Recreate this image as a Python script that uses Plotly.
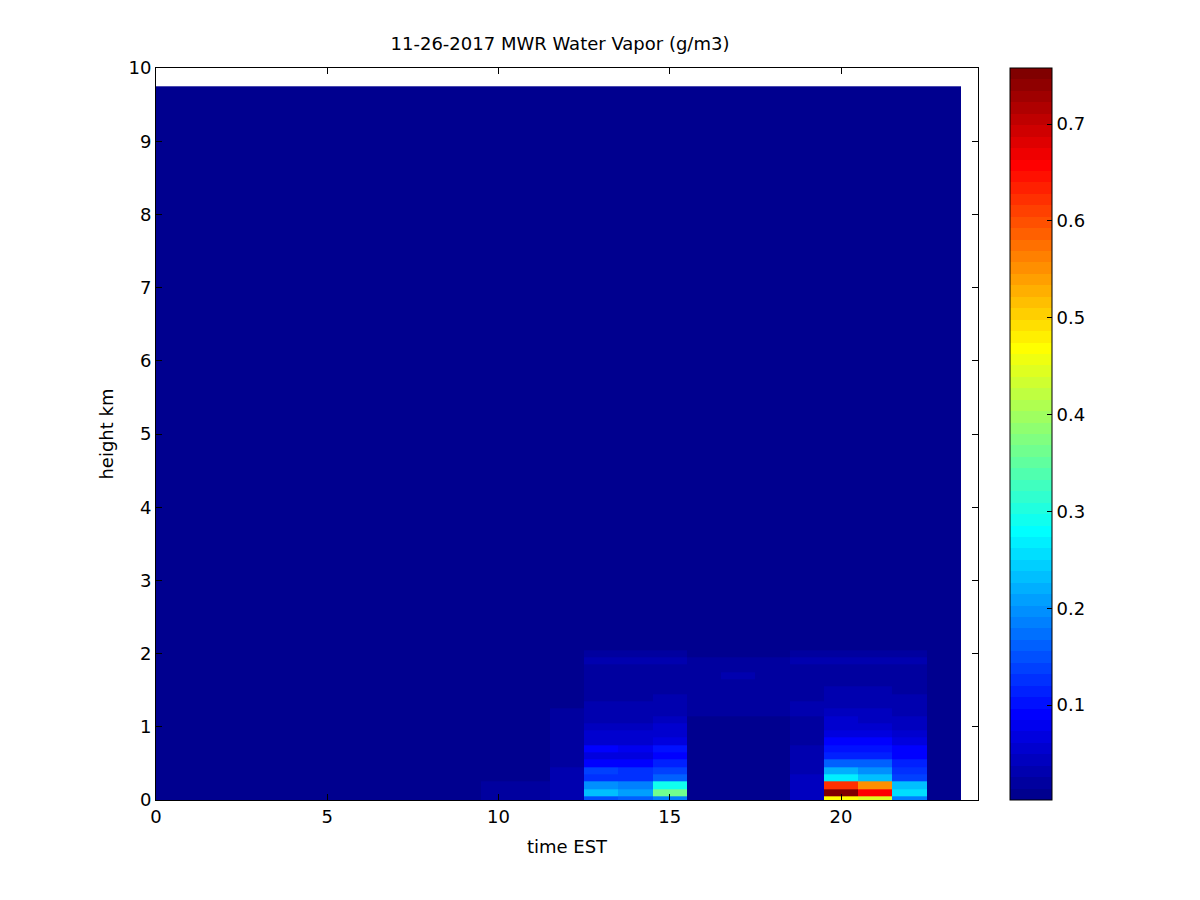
import numpy as np
import plotly.graph_objects as go

# ---------------- data ----------------
# time bin edges (hours EST); 24 columns
time_edges = [0.0] + [h + 0.5 for h in range(24)]
# height bin edges (km): fine spacing below 2 km, coarse above
height_edges_low = [0.0, 0.05, 0.15, 0.25, 0.35, 0.45, 0.55, 0.65, 0.75, 0.85, 0.95,
                    1.05, 1.15, 1.25, 1.35, 1.45, 1.55, 1.65, 1.75, 1.85, 1.95, 2.05]
height_edges_high = [2.25, 2.5, 2.75, 3.0, 3.25, 3.5, 3.75, 4.0, 4.25, 4.5, 4.75, 5.0,
                     5.25, 5.5, 5.75, 6.0, 6.25, 6.5, 6.75, 7.0, 7.25, 7.5, 7.75, 8.0,
                     8.25, 8.5, 8.75, 9.0, 9.25, 9.5, 9.75]

# water vapor profiles (g/m3) for the 21 low levels, one list per hourly column
bg = [0.006] * 21
wv_col_00 = bg
wv_col_01 = bg
wv_col_02 = bg
wv_col_03 = bg
wv_col_04 = bg
wv_col_05 = bg
wv_col_06 = bg
wv_col_07 = bg
wv_col_08 = bg
wv_col_09 = [0.008, 0.008, 0.007, 0.006, 0.006, 0.006, 0.006, 0.006, 0.006, 0.006, 0.006,
             0.006, 0.006, 0.006, 0.006, 0.006, 0.006, 0.006, 0.006, 0.006, 0.006]
wv_col_10 = [0.016, 0.016, 0.015, 0.01, 0.01, 0.009, 0.009, 0.008, 0.008, 0.007, 0.007,
             0.007, 0.007, 0.007, 0.007, 0.007, 0.007, 0.007, 0.007, 0.007, 0.007]
wv_col_11 = [0.018, 0.018, 0.016, 0.012, 0.012, 0.011, 0.01, 0.009, 0.008, 0.008, 0.008,
             0.008, 0.008, 0.008, 0.008, 0.008, 0.008, 0.008, 0.008, 0.008, 0.008]
wv_col_12 = [0.032, 0.034, 0.032, 0.03, 0.028, 0.024, 0.022, 0.022, 0.02, 0.02, 0.018,
             0.016, 0.014, 0.013, 0.012, 0.011, 0.01, 0.01, 0.01, 0.012, 0.009]
wv_col_13 = [0.15, 0.23, 0.20, 0.13, 0.14, 0.095, 0.07, 0.085, 0.06, 0.05, 0.045,
             0.035, 0.03, 0.028, 0.024, 0.022, 0.022, 0.02, 0.02, 0.03, 0.016]
wv_col_14 = [0.16, 0.21, 0.19, 0.13, 0.125, 0.09, 0.07, 0.08, 0.058, 0.05, 0.045,
             0.035, 0.03, 0.028, 0.024, 0.022, 0.022, 0.02, 0.02, 0.03, 0.016]
wv_col_15 = [0.19, 0.36, 0.29, 0.165, 0.14, 0.115, 0.085, 0.1, 0.07, 0.06, 0.05,
             0.04, 0.035, 0.03, 0.026, 0.024, 0.022, 0.02, 0.02, 0.03, 0.016]
wv_col_16 = [0.012, 0.012, 0.012, 0.012, 0.012, 0.012, 0.012, 0.012, 0.012, 0.012, 0.012,
             0.012, 0.02, 0.024, 0.02, 0.016, 0.015, 0.015, 0.015, 0.015, 0.012]
wv_col_17 = [0.012, 0.012, 0.012, 0.012, 0.012, 0.012, 0.012, 0.012, 0.012, 0.012, 0.012,
             0.012, 0.02, 0.024, 0.02, 0.016, 0.015, 0.03, 0.015, 0.015, 0.012]
wv_col_18 = [0.012, 0.012, 0.012, 0.012, 0.012, 0.012, 0.012, 0.012, 0.012, 0.012, 0.012,
             0.012, 0.02, 0.024, 0.02, 0.016, 0.015, 0.015, 0.015, 0.015, 0.012]
wv_col_19 = [0.045, 0.045, 0.04, 0.038, 0.034, 0.03, 0.028, 0.026, 0.025, 0.024, 0.024,
             0.024, 0.028, 0.028, 0.024, 0.02, 0.02, 0.018, 0.018, 0.026, 0.014]
wv_col_20 = [0.47, 0.75, 0.62, 0.27, 0.215, 0.165, 0.12, 0.1, 0.085, 0.07, 0.058,
             0.05, 0.04, 0.036, 0.03, 0.026, 0.024, 0.022, 0.022, 0.03, 0.016]
wv_col_21 = [0.44, 0.652, 0.546, 0.237, 0.2, 0.165, 0.12, 0.1, 0.085, 0.068, 0.055,
             0.048, 0.04, 0.034, 0.03, 0.026, 0.024, 0.022, 0.022, 0.03, 0.016]
wv_col_22 = [0.18, 0.26, 0.23, 0.14, 0.125, 0.11, 0.095, 0.085, 0.07, 0.055, 0.048,
             0.04, 0.035, 0.03, 0.026, 0.024, 0.022, 0.02, 0.02, 0.028, 0.015]
wv_col_23 = [0.012, 0.012, 0.012, 0.011, 0.01, 0.01, 0.01, 0.01, 0.01, 0.01, 0.01,
             0.01, 0.01, 0.01, 0.01, 0.01, 0.01, 0.01, 0.01, 0.01, 0.01]
wv_upper_level = 0.006  # uniform value read above 2 km

low_cols = [wv_col_00, wv_col_01, wv_col_02, wv_col_03, wv_col_04, wv_col_05,
            wv_col_06, wv_col_07, wv_col_08, wv_col_09, wv_col_10, wv_col_11,
            wv_col_12, wv_col_13, wv_col_14, wv_col_15, wv_col_16, wv_col_17,
            wv_col_18, wv_col_19, wv_col_20, wv_col_21, wv_col_22, wv_col_23]

cb_ticks = [0.1, 0.2, 0.3, 0.4, 0.5, 0.6, 0.7]
c_min, c_max = 0.002, 0.758

# ---------------- build grid ----------------
height_edges = height_edges_low + height_edges_high
z_low = np.array(low_cols).T                      # (21, 24)
n_high = len(height_edges_high)
z_high = np.full((n_high, len(low_cols)), wv_upper_level)
z = np.vstack([z_low, z_high])

# MATLAB jet(64) colormap, discrete
def jet64():
    m, n = 64, 16
    u = [k / n for k in range(1, n + 1)] + [1.0] * (n - 1) + [k / n for k in range(n, 0, -1)]
    L = len(u)
    g = [8 + k for k in range(1, L + 1)]
    r = [gi + n for gi in g]
    b = [gi - n for gi in g]
    J = np.zeros((m, 3))
    rr = [x for x in r if x <= m]
    for i, idx in enumerate(rr):
        J[idx - 1, 0] = u[i]
    for i, idx in enumerate(g):
        J[idx - 1, 1] = u[i]
    bb = [x for x in b if x >= 1]
    for i, idx in enumerate(bb):
        J[idx - 1, 2] = u[L - len(bb) + i]
    return J

J = jet64()
colorscale = []
for i in range(64):
    c = "rgb(%d,%d,%d)" % tuple(int(round(v * 255)) for v in J[i])
    colorscale.append([i / 64, c])
    colorscale.append([(i + 1) / 64, c])

font_family = "DejaVu Sans, Liberation Sans, Arial, sans-serif"
fs = 18

fig = go.Figure(go.Heatmap(
    x=time_edges, y=height_edges, z=z,
    zmin=c_min, zmax=c_max, colorscale=colorscale, zsmooth=False,
    colorbar=dict(
        x=1.039, xanchor="left", xpad=0, y=0.5, yanchor="middle",
        len=1, lenmode="fraction", ypad=0, thickness=42,
        outlinewidth=1, outlinecolor="black",
        tickvals=cb_ticks, ticktext=[str(t) for t in cb_ticks],
        ticks="inside", ticklen=5, tickcolor="black",
        tickfont=dict(family=font_family, size=fs, color="black"),
    ),
))

# page body adds an 8px offset; margins compensate so the plot lands at 156..978 x 68..800
fig.update_layout(
    width=1200, height=900,
    paper_bgcolor="white", plot_bgcolor="white",
    margin=dict(l=148, r=230, t=60, b=108, pad=0),
    title=dict(text="11-26-2017 MWR Water Vapor (g/m3)", x=552 / 1200, xanchor="center",
               y=1 - 36 / 900, yanchor="middle", yref="container",
               font=dict(family=font_family, size=fs, color="black")),
    font=dict(family=font_family, size=fs, color="black"),
    xaxis=dict(range=[0, 24], tickvals=[0, 5, 10, 15, 20], ticks="inside", ticklen=6,
               tickcolor="black", showline=True, linecolor="black", linewidth=1,
               mirror="ticks", showgrid=False, zeroline=False,
               title=dict(text="time EST", standoff=14,
                          font=dict(family=font_family, size=fs, color="black")),
               tickfont=dict(family=font_family, size=fs, color="black")),
    yaxis=dict(range=[0, 10], dtick=1, ticks="inside", ticklen=6,
               tickcolor="black", showline=True, linecolor="black", linewidth=1,
               mirror="ticks", showgrid=False, zeroline=False,
               title=dict(text="height km", standoff=10,
                          font=dict(family=font_family, size=fs, color="black")),
               tickfont=dict(family=font_family, size=fs, color="black")),
)

fig.write_html("out.html")
